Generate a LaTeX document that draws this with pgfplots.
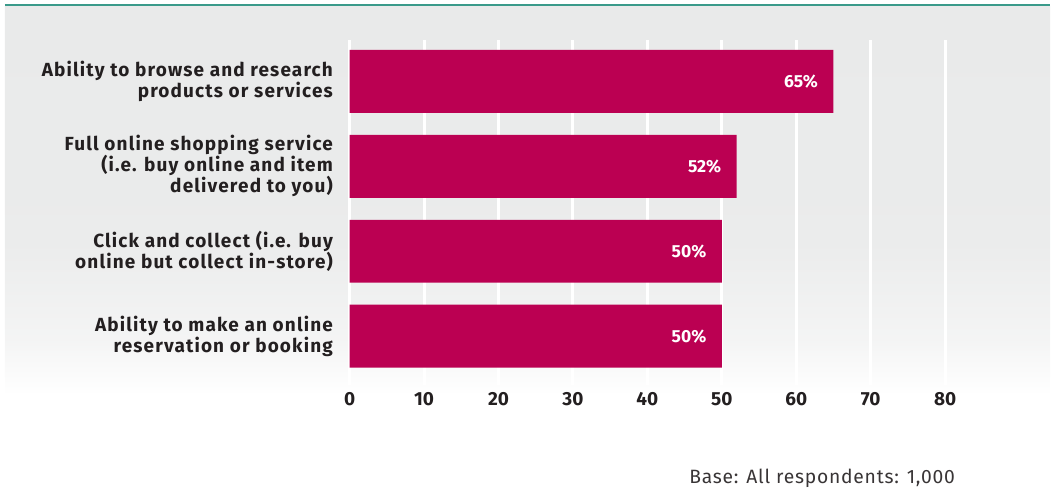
\documentclass[border=0pt]{standalone}
\usepackage{pgfplots}
\pgfplotsset{compat=1.18}
\usepackage{fontspec}
\setmainfont{Fira Sans}[BoldFont={Fira Sans Bold}]
\newfontfamily\lblfont{Fira Sans Bold}[LetterSpace=6]
\newfontfamily\basefont{Fira Sans}[LetterSpace=4]
\definecolor{barcol}{HTML}{BB0052}
\definecolor{txt}{HTML}{231F20}
\definecolor{teal}{HTML}{3A9A8A}
\definecolor{bgg}{HTML}{E9EAEA}
\pgfdeclareverticalshading{bgshade}{100bp}{color(0bp)=(white); color(25bp)=(white); color(32bp)=(white!50!bgg); color(45bp)=(bgg!92!white); color(75bp)=(bgg); color(100bp)=(bgg)}
\begin{document}
\begin{tikzpicture}[x=1pt,y=1pt]
\path (0,0) rectangle (1051,-488);
\shade[shading=bgshade] (5,-7) rectangle (1051,-395);
\draw[teal, line width=2pt] (5,-5.5) -- (1051,-5.5);
\begin{axis}[
  at={(350pt,-40pt)}, anchor=north west,
  scale only axis, width=596pt, height=345pt,
  xbar, bar width=63pt, bar shift=0pt,
  xmin=0, xmax=80, ymin=-0.488, ymax=3.571,
  y dir=reverse,
  xtick={0,10,...,80},
  ytick={0,1,2,3},
  yticklabels={{Ability to browse and research\\products or services},
               {Full online shopping service\\(i.e. buy online and item\\delivered to you)},
               {Click and collect (i.e. buy\\online but collect in-store)},
               {Ability to make an online\\reservation or booking}},
  yticklabel style={align=right, font=\fontsize{19}{21}\lblfont, text=txt, xshift=-9pt},
  xticklabel style={font=\fontsize{19}{22}\selectfont\bfseries, text=txt, yshift=-4pt},
  /pgf/number format/assume math mode=true,
  axis line style={draw=none},
  major tick style={draw=none},
  xmajorgrids, grid style={white, line width=3pt},
  nodes near coords={\pgfmathprintnumber{\pgfplotspointmeta}\%},
  nodes near coords style={white, font=\fontsize{17.5}{21}\selectfont\bfseries, anchor=east, xshift=-12pt},
  point meta=x,
]
\addplot[fill=barcol, draw=none] coordinates {(65,0) (52,1) (50,2) (50,3)};
\end{axis}
\node[anchor=base east, inner sep=0pt, font=\fontsize{19.3}{21}\basefont, text=txt!90!white] at (956,-484) {Base: All respondents: 1,000};
\end{tikzpicture}
\end{document}
